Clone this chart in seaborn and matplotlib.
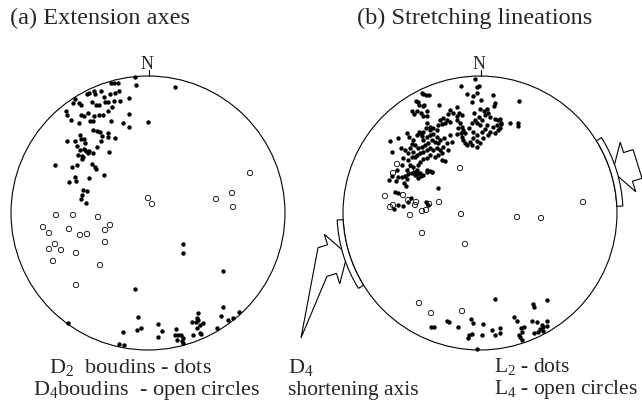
import numpy as np
import pandas as pd
import seaborn as sns
import matplotlib.pyplot as plt
from matplotlib.patches import Circle, Wedge, Polygon

# page layout (pixels): centres of the two nets and radius of the primitive circle
NET_A = (148, 213)
NET_B = (480, 213)
RADIUS = 137

# (a) extension axes, (east, north) offsets from net centre, same pixel scale
A_DOTS = [(-37, 130), (-34, 130), (-30, 130), (-13, 136), (-12, 128),
          (-61, 119), (-59, 120), (-54, 122), (-53, 119), (-47, 122), (-38, 119), (-33, 120), (-29, 122), (-19, 115),
          (-73, 114), (-75, 110), (-69, 110), (-67, 108), (-56, 111), (-52, 108), (-49, 108), (-44, 116), (-43, 111),
          (-40, 111), (-34, 112), (-28, 112),
          (-82, 102), (-81, 98), (-77, 93), (-67, 98), (-64, 97), (-60, 100), (-58, 92), (-55, 92), (-54, 97),
          (-49, 98), (-45, 98), (-40, 102), (-36, 106), (-37, 92), (-25, 90), (-19, 99), (-19, 86), (0, 91),
          (-69, 90), (-55, 83), (-51, 82), (-48, 81), (-46, 77), (-47, 72), (-40, 80), (-40, 76), (-33, 75),
          (-81, 72), (-73, 72), (-68, 78), (-67, 74), (-64, 74), (-63, 70), (-71, 67), (-68, 63), (-64, 64),
          (-62, 62), (-59, 62), (-55, 60), (-51, 66), (-70, 58), (-66, 57), (-65, 56), (-66, 54), (-60, 60), (-39, 61),
          (-93, 48), (-76, 46), (-71, 48), (-56, 49), (-53, 46), (-52, 44), (-44, 38), (-73, 36), (-72, 32),
          (-79, 31), (-59, 35), (-65, 23), (-61, 22), (-66, 18), (-67, 14), (-62, 10), (27, 126),
          (35, -31), (35, -40), (75, -58), (-13, -76),
          (-10, -104), (-11, -117), (-7, -115), (-25, -119), (-29, -131), (-24, -132), (10, -111), (14, -118),
          (10, -124), (28, -116), (27, -122), (30, -122), (33, -122), (35, -125), (29, -127), (34, -128), (35, -130),
          (44, -109), (48, -109), (50, -100), (49, -105), (50, -107), (52, -112), (55, -110), (49, -115), (52, -120),
          (53, -121), (45, -122), (69, -115), (73, -103), (75, -94), (80, -107), (85, -105), (91, -99), (-80, -110)]
A_OPEN = [(102, 40), (84, 20), (68, 14), (85, 6), (0, 15), (4, 9), (-92, -2), (-75, -2), (-50, -4), (-105, -14),
          (-99, -20), (-79, -16), (-68, -22), (-61, -21), (-38, -12), (-43, -17), (-43, -29), (-93, -31), (-99, -36),
          (-87, -37), (-72, -40), (-95, -48), (-48, -52), (-72, -72)]

# (b) stretching lineations
B_DOTS = [(-5, 134), (-19, 127), (-3, 126), (-1, 127), (-13, 119), (-7, 117), (-3, 120), (-8, 111), (1, 113),
          (13, 118), (15, 110), (14, 107),
          (-58, 120), (-54, 118), (-51, 118), (-57, 119),
          (-64, 112), (-62, 111), (-61, 108), (-57, 107), (-56, 108), (-63, 102), (-68, 102), (-66, 99), (-59, 100),
          (-53, 102), (-57, 97), (-53, 97), (-41, 108),
          (-23, 106), (-21, 100), (-18, 98), (-23, 97), (-27, 100), (-30, 103), (-32, 99),
          (-6, 100), (0, 104), (4, 102), (7, 104), (8, 100), (5, 98), (-1, 96), (10, 96), (2, 93), (-5, 93),
          (15, 94), (18, 93), (21, 90), (17, 88), (13, 86), (18, 83), (15, 80),
          (39, 112), (30, 90), (38, 90), (38, 87), (20, 94), (21, 89), (20, 85),
          (-40, 93), (-37, 95), (-33, 93), (-30, 91), (-35, 90), (-38, 89), (-42, 88),
          (-53, 90), (-50, 86), (-47, 85), (-43, 83), (-50, 83), (-54, 85), (-57, 81), (-60, 80),
          (-23, 93), (-20, 90), (-18, 86), (-22, 85), (-17, 83), (-15, 80), (-19, 80), (-23, 79), (-18, 76),
          (-17, 73), (-15, 70), (-13, 68), (-10, 71), (-7, 75), (-3, 72), (0, 70), (-3, 78), (2, 81), (5, 84),
          (-7, 81), (-11, 85), (-8, 90), (-3, 90), (0, 88), (7, 88), (8, 78), (-3, 66), (-8, 68), (3, 75), (10, 81),
          (-73, 80), (-71, 76), (-67, 73), (-63, 78), (-61, 81), (-58, 77), (-57, 73), (-53, 76), (-50, 78),
          (-47, 79), (-43, 76), (-40, 73), (-42, 70), (-45, 71), (-48, 73), (-52, 70), (-55, 68), (-58, 66),
          (-62, 65), (-65, 68), (-68, 69), (-70, 65), (-67, 61), (-63, 58), (-60, 60), (-57, 61), (-53, 63),
          (-50, 65), (-47, 63), (-43, 65), (-40, 63), (-37, 66), (-38, 60), (-42, 58), (-45, 56), (-50, 58),
          (-53, 55), (-57, 54), (-60, 51), (-62, 48), (-65, 56), (-68, 56), (-72, 60), (-75, 63), (-72, 53),
          (-70, 48), (-67, 46), (-63, 43), (-90, 72), (-88, 61), (-82, 75), (-79, 65), (-77, 55), (-73, 43),
          (-68, 40), (-78, 48), (-83, 43), (-38, 53), (-35, 52), (-53, 43), (-50, 42), (-48, 41), (-60, 40),
          (-65, 38), (-62, 35), (-57, 38), (-30, 78), (-28, 71), (-33, 70), (-32, 63), (-36, 75),
          (-88, 37), (-91, 33), (-84, 32), (-82, 36), (-78, 36), (-75, 37), (-73, 34), (-76, 30), (-74, 27),
          (-72, 39), (-65, 41), (-63, 39), (-59, 37), (-53, 41), (-48, 41), (-42, 25), (-85, 21), (-82, 20),
          (-69, 15), (-72, 11), (-86, 4), (-82, 8), (-77, 7), (-54, 11), (-52, 8),
          (15, -86), (-49, -114), (-46, -114), (-33, -108), (-31, -109), (-22, -114), (-9, -106), (-7, -110),
          (3, -111), (-11, -122), (-12, -125), (-8, -121), (2, -122), (12, -117), (15, -122), (20, -115),
          (20, -120), (-3, -136), (34, -104), (37, -108), (41, -115), (44, -114), (42, -119), (39, -122),
          (40, -124), (42, -127), (53, -91), (54, -94), (67, -87), (52, -108), (57, -109), (62, -112), (67, -113),
          (63, -114), (60, -116), (58, -119), (63, -118), (54, -120), (67, -108)]
B_OPEN = [(-20, 45), (-83, 49), (-87, 40), (-69, 43), (-95, 17), (-77, 18), (-90, 6), (-87, 8), (-72, 13),
          (-64, 11), (-65, 8), (-70, -2), (-51, 9), (-54, 3), (-58, 2), (-41, 11), (-19, -1), (-58, -20),
          (-15, -31), (37, -4), (61, -5), (103, 11), (-61, -90), (-49, -100), (-18, -98)]

# D4 shortening direction, azimuth in degrees from N
D4_AZIMUTH = 72.7
D4_TAIL = (-179, -125)   # end of the long arrow pointing at the label

sns.set_theme(style="white")
plt.rcParams['font.family'] = ['Liberation Serif', 'DejaVu Serif']
plt.rcParams['mathtext.fontset'] = 'custom'
plt.rcParams['mathtext.rm'] = 'Liberation Serif'
plt.rcParams['mathtext.it'] = 'Liberation Serif:italic'


def to_page(center, pts):
    pts = np.asarray(pts, float)
    return pd.DataFrame({'x': center[0] + pts[:, 0], 'y': center[1] - pts[:, 1]})


def draw_net(ax, center, dots, opens):
    cx, cy = center
    ax.add_patch(Circle(center, RADIUS, fill=False, lw=0.8, color='black'))
    ax.plot([cx + 1, cx + 1], [cy - RADIUS, cy - RADIUS - 6], color='black', lw=0.8)
    ax.text(cx - 1, cy - RADIUS - 7, 'N', ha='center', va='baseline', fontsize=13)
    sns.scatterplot(data=to_page(center, dots), x='x', y='y', ax=ax, color='black',
                    s=10, linewidth=0, legend=False)
    sns.scatterplot(data=to_page(center, opens), x='x', y='y', ax=ax, facecolor='none',
                    edgecolor='black', s=15, linewidth=0.6, legend=False)


def arrow_outline(az, tip_r=139, head_len=16, head_w=26, shaft_w=15, shaft_len=26, tail=None):
    a = np.radians(az)
    d = np.array([np.sin(a), np.cos(a)])
    p = np.array([np.cos(a), -np.sin(a)])
    tip = d * tip_r

    def at(u, v):
        return tip + d * u + p * v

    pts = [tip, at(head_len, head_w), at(head_len, shaft_w), at(shaft_len, shaft_w)]
    if tail is not None:
        pts.append(np.array(tail, float))
    pts += [at(shaft_len, -shaft_w), at(head_len, -shaft_w), at(head_len, -head_w)]
    return np.array(pts)


def draw_shortening(ax, center, az, tail=None):
    pts = arrow_outline(az, tail=tail)
    page = np.column_stack([center[0] + pts[:, 0], center[1] - pts[:, 1]])
    ax.add_patch(Polygon(page, closed=True, fill=True, facecolor='white', edgecolor='black', lw=0.8))
    ax.add_patch(Wedge(center, RADIUS + 6, az - 14.5 - 90, az + 14.5 - 90, width=6,
                       facecolor='white', edgecolor='black', lw=0.8))


fig = plt.figure(figsize=(6.42, 4.03), dpi=100)
ax = fig.add_axes([0, 0, 1, 1])
ax.set_xlim(0, 642)
ax.set_ylim(403, 0)
ax.axis('off')

draw_net(ax, NET_A, A_DOTS, A_OPEN)
draw_net(ax, NET_B, B_DOTS, B_OPEN)
draw_shortening(ax, NET_B, D4_AZIMUTH)
draw_shortening(ax, NET_B, D4_AZIMUTH + 180, tail=D4_TAIL)

ax.text(10, 24, '(a) Extension axes', fontsize=17.5, va='baseline')
ax.text(357, 24, '(b) Stretching lineations', fontsize=17.5, va='baseline')

ax.text(49, 373, 'D$_2$  boudins - dots', fontsize=16, va='baseline')
ax.text(33, 395, 'D$_4$boudins  - open circles', fontsize=16, va='baseline')
ax.text(288, 373, 'D$_4$', fontsize=16, va='baseline')
ax.text(288, 395, 'shortening axis', fontsize=15.5, va='baseline')
ax.text(494, 372, 'L$_2$ - dots', fontsize=15.5, va='baseline')
ax.text(494, 394, 'L$_4$ - open circles', fontsize=15.5, va='baseline')

fig.savefig('out.png', dpi=100)
